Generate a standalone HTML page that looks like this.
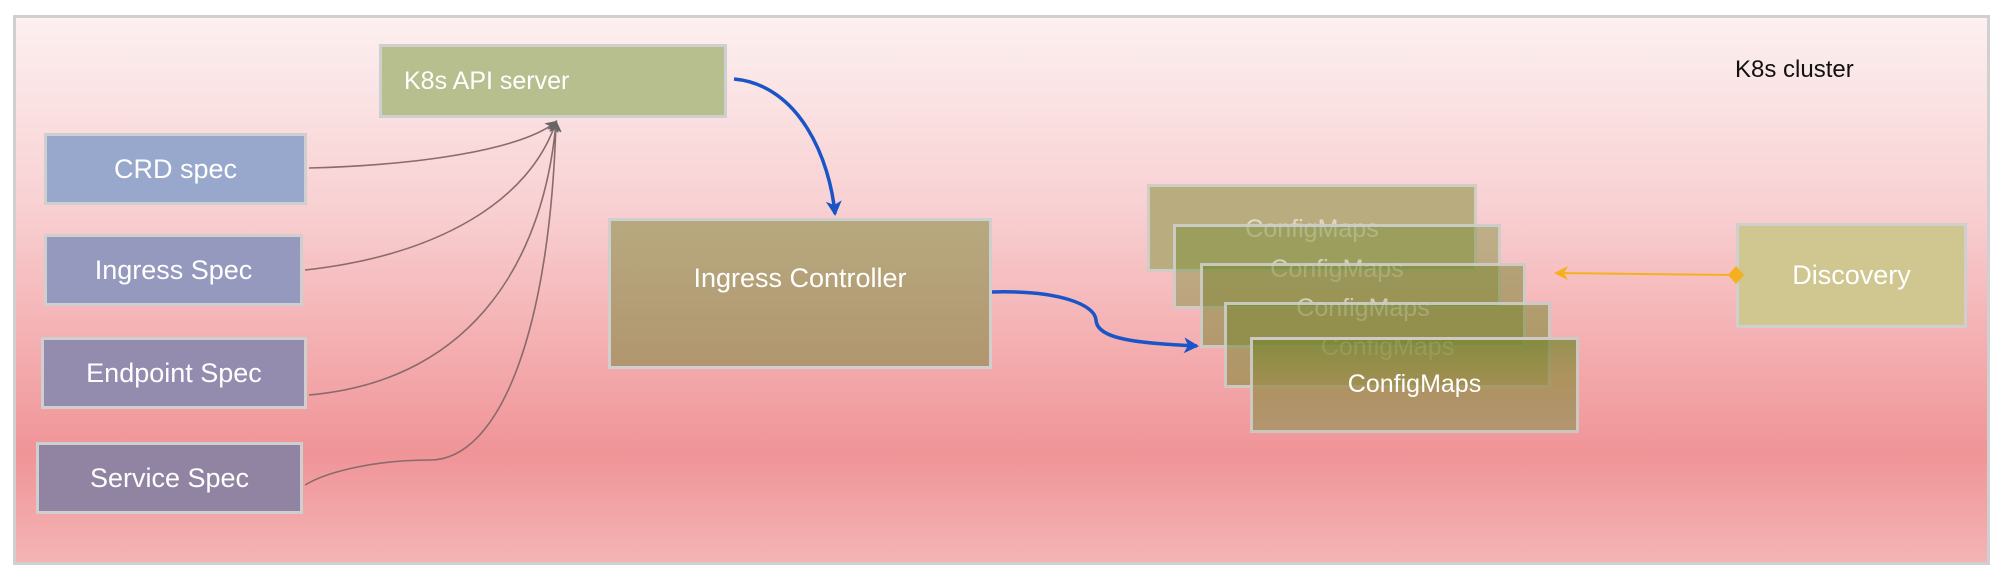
<!DOCTYPE html>
<html><head><style>
body{margin:0;width:2008px;height:580px;background:#fff;position:relative;overflow:hidden;font-family:"Liberation Sans",sans-serif}
.frame{position:absolute;left:13px;top:15px;width:1971px;height:544px;border:3px solid #d0d0d0;background:linear-gradient(#fcf0f0 0%,#f8d0d2 35%,#f3a8aa 65%,#f09498 80%,#f4b4b4 100%)}
.b{position:absolute;box-sizing:border-box;border:3px solid #cfcfcf;color:#fff;font-size:27px;display:flex;align-items:center;justify-content:center}
.cm{position:absolute;box-sizing:border-box;border:3px solid rgba(210,210,210,.85);color:rgba(255,255,255,.55);font-size:25px;text-align:center;background:rgba(120,140,50,.45)}
</style></head><body>
<div class="frame"></div>
<div style="position:absolute;left:1735px;top:56px;font-size:24px;color:#111">K8s cluster</div>
<div class="b" style="left:379px;top:44px;width:348px;height:74px;background:#b8bf8f;justify-content:flex-start;padding-left:22px;font-size:25px">K8s API server</div>
<div class="b" style="left:44px;top:133px;width:263px;height:72px;background:#98a8cc">CRD spec</div>
<div class="b" style="left:44px;top:234px;width:259px;height:72px;background:#9499bd">Ingress Spec</div>
<div class="b" style="left:41px;top:337px;width:266px;height:72px;background:#948caf">Endpoint Spec</div>
<div class="b" style="left:36px;top:442px;width:267px;height:72px;background:#9184a3">Service Spec</div>
<div class="b" style="left:608px;top:218px;width:384px;height:151px;background:linear-gradient(#b7a97f,#b1966f);align-items:flex-start;padding-top:42px">Ingress Controller</div>
<div class="cm" style="left:1147px;top:184px;width:330px;height:88px;background:#b9ad80;padding-top:28px">ConfigMaps</div>
<div class="cm" style="left:1173px;top:224px;width:328px;height:85px;padding-top:28px">ConfigMaps</div>
<div class="cm" style="left:1200px;top:263px;width:326px;height:85px;background:rgba(125,135,55,.55);padding-top:28px">ConfigMaps</div>
<div class="cm" style="left:1224px;top:302px;width:327px;height:86px;background:rgba(120,135,50,.55);padding-top:28px">ConfigMaps</div>
<div class="cm" style="left:1250px;top:337px;width:329px;height:96px;background:linear-gradient(rgba(120,135,50,.75) 0%,rgba(150,140,70,.75) 40%,#b39570 100%);color:#fff;padding-top:30px">ConfigMaps</div>
<div class="b" style="left:1736px;top:223px;width:231px;height:105px;background:#cfc690">Discovery</div>
<svg width="2008" height="580" style="position:absolute;left:0;top:0">
<defs>
<marker id="g" markerWidth="12" markerHeight="12" refX="10" refY="6" orient="auto" markerUnits="userSpaceOnUse"><path d="M0,0L12,6L0,12L3,6z" fill="#666"/></marker>
<marker id="bl" markerWidth="16" markerHeight="16" refX="13" refY="8" orient="auto" markerUnits="userSpaceOnUse"><path d="M0,0L15,8L0,16L4,8z" fill="#1a55c8"/></marker>
<marker id="or" markerWidth="14" markerHeight="14" refX="12" refY="7" orient="auto" markerUnits="userSpaceOnUse"><path d="M0,0L14,7L0,14L4,7z" fill="#f5b020"/></marker>
</defs>
<g fill="none" stroke="#8a6a6a" stroke-width="1.6">
<path d="M309,168 C420,165 520,150 556,122" marker-end="url(#g)"/>
<path d="M305,270 C440,255 530,200 556,122" marker-end="url(#g)"/>
<path d="M309,395 C480,380 545,250 556,122" marker-end="url(#g)"/>
<path d="M305,485 C330,470 380,460 430,460 C500,460 550,330 556,122" marker-end="url(#g)"/>
</g>
<path d="M734,79 C800,85 830,160 835,214" fill="none" stroke="#1a55c8" stroke-width="3.5" marker-end="url(#bl)"/>
<path d="M992,292 C1060,290 1095,305 1096,320 C1097,340 1140,343 1197,346" fill="none" stroke="#1a55c8" stroke-width="3.5" marker-end="url(#bl)"/>
<path d="M1734,275 L1556,273" fill="none" stroke="#f5b020" stroke-width="2" marker-end="url(#or)"/>
<path d="M1736,266 L1744,275 L1736,284 L1728,275z" fill="#f5b020"/>
</svg>
</body></html>
